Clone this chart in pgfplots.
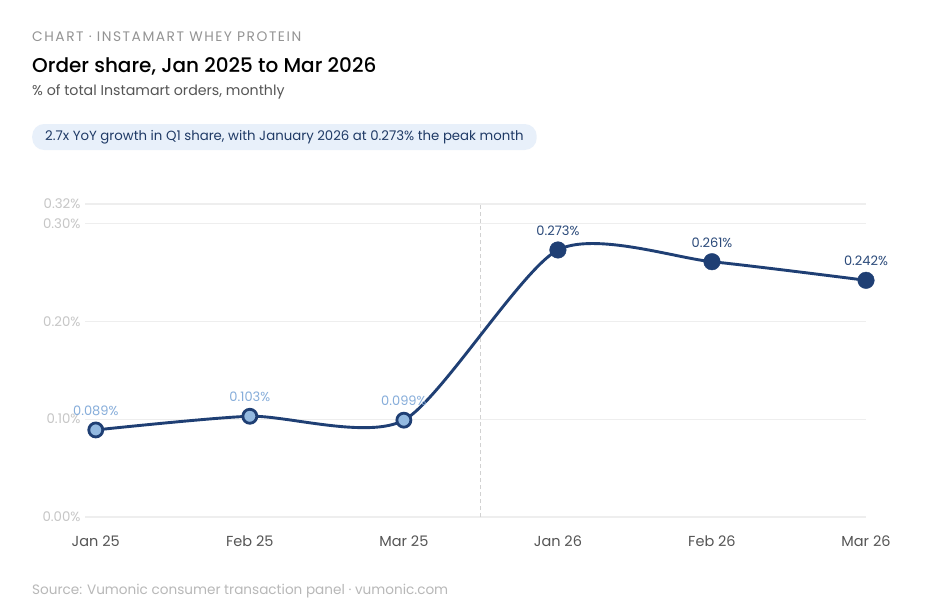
\documentclass[border=0pt]{standalone}
\usepackage{fontspec}
\setmainfont{Poppins}
\newfontfamily\headfont[LetterSpace=11]{Poppins}
\newfontfamily\titlefont{Poppins Medium}
\usepackage{pgfplots}
\pgfplotsset{compat=1.18}
\definecolor{navy}{HTML}{1F3F74}
\definecolor{lightfill}{HTML}{93B9E0}
\definecolor{lightlab}{HTML}{86ADDA}
\definecolor{navylab}{HTML}{2B4A7A}
\definecolor{ytick}{HTML}{C6C6C6}
\definecolor{xtick}{HTML}{555555}
\definecolor{gridc}{HTML}{EEEEEE}
\definecolor{pillfill}{HTML}{E8F0FA}
\definecolor{pilltext}{HTML}{1F3A66}
\begin{document}
\begin{tikzpicture}
\path[use as bounding box, fill=white] (0,0) rectangle (930pt,-616pt);
\node[anchor=base west, text=black!42, font=\headfont\fontsize{13.8}{15}\selectfont, inner sep=0] at (32pt,-41pt) {CHART · INSTAMART WHEY PROTEIN};
\node[anchor=base west, text=black, font=\titlefont\fontsize{20}{24}\selectfont, inner sep=0] at (32pt,-72pt) {Order share, Jan 2025 to Mar 2026};
\node[anchor=base west, text=xtick, font=\fontsize{14.2}{17}\selectfont, inner sep=0] at (32pt,-95pt) {\% of total Instamart orders, monthly};
\node[anchor=west, fill=pillfill, rounded corners=12pt, minimum height=26pt, inner xsep=13pt, text=pilltext, font=\fontsize{13.3}{15}\selectfont] at (32pt,-137pt) {2.7x YoY growth in Q1 share, with January 2026 at 0.273\% the peak month};
\node[anchor=base west, text=black!28, font=\fontsize{13.6}{15}\selectfont, inner sep=0] at (32pt,-594pt) {Source: Vumonic consumer transaction panel · vumonic.com};
\begin{axis}[
  at={(85pt,-517pt)}, anchor=south west,
  scale only axis, width=781pt, height=313pt,
  xmin=-0.07, xmax=5, ymin=0, ymax=0.32,
  axis line style={draw=none},
  major tick length=0pt,
  xtick={0,1,2,3,4,5},
  xticklabels={Jan 25,Feb 25,Mar 25,Jan 26,Feb 26,Mar 26},
  ytick={0,0.1,0.2,0.3,0.32},
  yticklabels={0.00\%,0.10\%,0.20\%,0.30\%,0.32\%},
  ymajorgrids, grid style={gridc, line width=1.3pt},
  yticklabel style={text=ytick, font=\fontsize{13.3}{14}\selectfont, xshift=-1pt},
  xticklabel style={text=xtick, font=\fontsize{14.5}{17}\selectfont, yshift=-15pt},
  clip=false,
]
\draw[dashed, dash pattern=on 4pt off 3pt, color=black!18, line width=1pt] (axis cs:2.5,0) -- (axis cs:2.5,0.32);
\addplot[navy, line width=2.9pt, smooth, tension=0.42, no marks] coordinates {
(0,0.089) (1,0.103) (2,0.099) (3,0.273) (4,0.261) (5,0.242)};
\addplot[only marks, mark=*, mark size=7pt, mark options={fill=lightfill, draw=navy, line width=2.8pt},
  nodes near coords, point meta=explicit symbolic,
  every node near coord/.style={text=lightlab, font=\fontsize{13}{15}\selectfont, anchor=south, inner sep=0pt, yshift=13pt}]
 table[meta=lab] {
x y lab
0 0.089 0.089\%
1 0.103 0.103\%
2 0.099 0.099\%
};
\addplot[only marks, mark=*, mark size=8.3pt, mark options={fill=navy, draw=navy},
  nodes near coords, point meta=explicit symbolic,
  every node near coord/.style={text=navylab, font=\fontsize{13}{15}\selectfont, anchor=south, inner sep=0pt, yshift=14pt}]
 table[meta=lab] {
x y lab
3 0.273 0.273\%
4 0.261 0.261\%
5 0.242 0.242\%
};
\end{axis}
\end{tikzpicture}
\end{document}
